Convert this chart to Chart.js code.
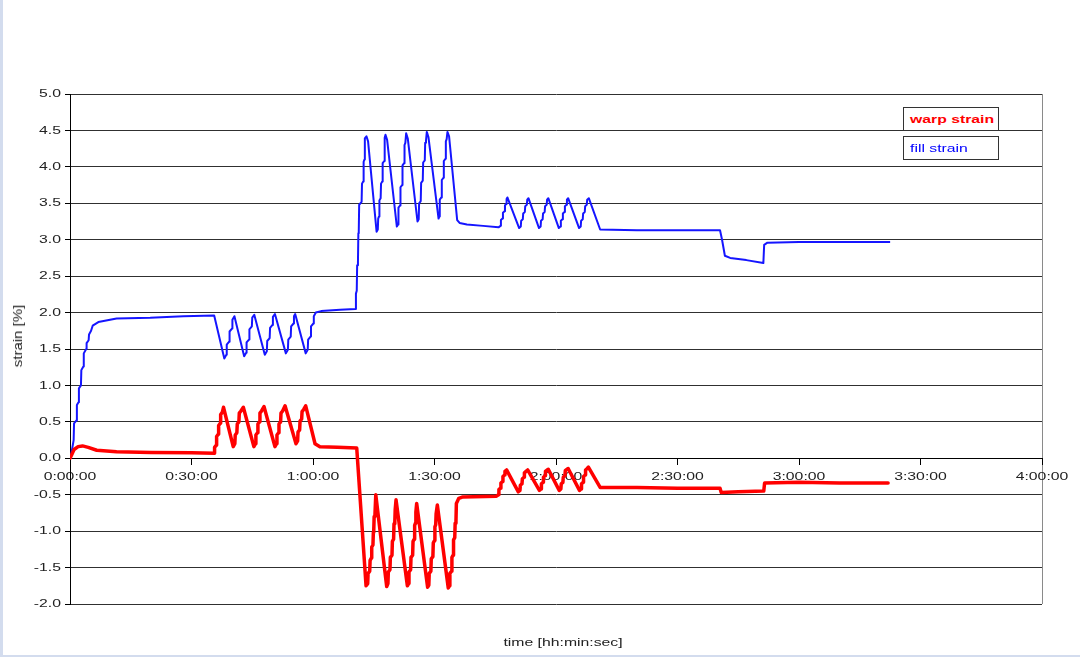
<!DOCTYPE html>
<html>
<head>
<meta charset="utf-8">
<script src="https://cdn.jsdelivr.net/npm/chart.js@4.4.1/dist/chart.umd.min.js"></script>
<style>
  html, body { margin: 0; padding: 0; background: #fff; }
  #wrap { position: relative; width: 1080px; height: 657px; overflow: hidden; background: #fff; }
  #c { position: absolute; left: 0; top: 0; }
  .strip { position: absolute; background: #d3dcee; }
  .legbox { position: absolute; left: 903px; width: 94px; height: 22px; border: 1px solid #333; background: #fff; box-sizing: content-box; }
  .legtxt { position: absolute; left: 6px; top: 3px; font-family: "Liberation Sans", Arial, sans-serif; font-size: 11.5px; line-height: 16px; white-space: nowrap; transform: scaleX(1.37); transform-origin: left center; }
  #xtitle { position: absolute; left: 563px; top: 636px; font-family: "Liberation Sans", Arial, sans-serif; font-size: 11.5px; color: #222; white-space: nowrap; transform: translateX(-50%) scaleX(1.37); }
  #ytitle { position: absolute; left: 18px; top: 336px; font-family: "Liberation Sans", Arial, sans-serif; font-size: 12px; color: #222; white-space: nowrap; transform: translate(-50%, -50%) rotate(-90deg) scaleX(1.25); }
</style>
</head>
<body>
<div id="wrap">
  <canvas id="c" width="1080" height="657"></canvas>
  <div class="strip" style="left:0;top:0;width:3px;height:657px;"></div>
  <div class="strip" style="left:0;top:655px;width:1080px;height:2px;"></div>
  <div class="legbox" style="top:107px;"><span class="legtxt" style="color:#ff0000;font-weight:bold;">warp strain</span></div>
  <div class="legbox" style="top:136px;"><span class="legtxt" style="color:#0000ff;">fill strain</span></div>
  <div id="xtitle">time [hh:min:sec]</div>
  <div id="ytitle">strain [%]</div>
</div>
<script>
// ---- data (time in minutes, strain in %) ----
const fillTime = [
  0,0.2,0.9,1.0,1.6,1.7,2.1,2.2,2.7,2.8,3.3,3.4,4.0,4.1,4.6,4.7,5.2,5.6,7.0,11.5,19.8,28.0,35.6,
  38.1,38.6,38.7,39.3,39.4,40.0,40.1,40.6,
  43.0,43.5,43.6,44.2,44.3,44.9,45.0,45.5,
  48.1,48.6,48.7,49.3,49.4,50.0,50.1,50.6,
  53.3,53.8,53.9,54.5,54.6,55.2,55.3,55.6,
  58.2,58.7,58.8,59.4,59.5,60.1,60.2,60.7,
  62.0,66.7,70.4,
  70.6,70.8,70.9,71.1,71.2,71.3,71.4,72.0,72.1,72.4,72.5,72.7,72.8,73.2,73.6,
  75.7,76.0,76.1,76.3,76.4,76.7,76.8,77.1,77.2,77.6,77.7,77.9,78.3,
  80.7,81.0,81.1,81.5,81.6,82.0,82.1,82.5,82.6,82.8,83.0,83.4,
  85.8,86.1,86.2,86.6,86.7,87.1,87.2,87.6,87.7,87.9,88.1,88.5,
  91.0,91.2,91.3,91.7,91.8,92.2,92.3,92.7,92.8,93.0,93.2,93.6,
  95.6,96.2,98.0,102.0,105.8,
  106.3,106.4,106.8,106.9,107.3,107.4,107.7,107.8,108.0,
  110.9,111.3,111.4,111.8,111.9,112.3,112.4,112.8,112.9,113.2,
  115.8,116.2,116.3,116.7,116.8,117.2,117.3,117.7,117.8,118.1,
  120.7,121.1,121.2,121.6,121.7,122.1,122.2,122.6,122.7,123.0,
  125.7,126.1,126.2,126.6,126.7,127.1,127.2,127.6,127.7,128.1,
  130.9,140.0,150.0,160.5,161.0,161.7,163.0,167.0,171.2,171.4,172.2,180.0,190.0,202.5
];
const fillStrain = [
  0,0.02,0.25,0.48,0.52,0.73,0.77,0.96,1.00,1.21,1.26,1.44,1.50,1.58,1.62,1.70,1.75,1.82,1.87,1.92,1.93,1.95,1.96,
  1.37,1.42,1.56,1.60,1.74,1.78,1.90,1.95,
  1.40,1.45,1.59,1.63,1.77,1.81,1.93,1.97,
  1.42,1.47,1.61,1.65,1.79,1.83,1.94,1.98,
  1.44,1.49,1.63,1.67,1.81,1.85,1.95,1.98,
  1.44,1.49,1.63,1.67,1.81,1.85,1.95,2.00,
  2.02,2.04,2.05,
  2.26,2.30,2.65,2.70,3.09,3.12,3.48,3.52,3.77,3.80,4.07,4.10,4.39,4.42,4.35,
  3.11,3.14,3.29,3.32,3.54,3.57,3.77,3.80,4.05,4.08,4.40,4.44,4.37,
  3.18,3.21,3.44,3.47,3.72,3.75,4.02,4.05,4.30,4.33,4.46,4.39,
  3.25,3.28,3.50,3.53,3.78,3.81,4.06,4.09,4.33,4.36,4.48,4.41,
  3.29,3.32,3.55,3.58,3.82,3.85,4.08,4.11,4.35,4.38,4.48,4.42,
  3.27,3.23,3.21,3.19,3.17,
  3.19,3.27,3.29,3.37,3.39,3.47,3.49,3.56,3.58,
  3.16,3.18,3.26,3.28,3.36,3.38,3.46,3.48,3.55,3.57,
  3.16,3.18,3.26,3.28,3.36,3.38,3.46,3.48,3.55,3.57,
  3.16,3.18,3.26,3.28,3.36,3.38,3.46,3.48,3.55,3.57,
  3.16,3.18,3.26,3.28,3.36,3.38,3.46,3.48,3.55,3.57,
  3.14,3.13,3.13,3.13,3.00,2.78,2.75,2.72,2.68,2.93,2.96,2.97,2.97,2.97
];
const warpTime = [
  0,0.5,1.0,2.0,3.1,4.5,6.6,11.5,20.0,30.0,35.6,
  35.7,36.1,36.2,36.6,36.7,37.1,37.2,37.6,37.9,
  40.3,40.7,40.8,41.2,41.3,41.7,41.8,42.2,42.8,
  45.4,45.8,45.9,46.3,46.4,46.8,46.9,47.3,47.9,
  50.6,51.0,51.1,51.5,51.6,52.0,52.1,52.5,53.1,
  55.8,56.2,56.3,56.7,56.8,57.2,57.3,57.7,58.2,
  60.5,61.7,66.0,70.8,
  73.1,73.5,73.6,74.0,74.1,74.4,74.5,74.8,74.9,75.0,75.1,75.3,75.5,
  78.2,78.5,78.6,79.0,79.1,79.5,79.6,79.9,80.0,80.2,80.3,80.5,
  83.3,83.6,83.7,84.1,84.2,84.6,84.7,85.0,85.1,85.3,85.4,85.6,
  88.3,88.6,88.7,89.1,89.2,89.6,89.7,90.0,90.1,90.3,90.4,90.7,
  93.4,93.7,93.8,94.2,94.3,94.6,94.7,95.0,95.1,95.3,95.4,96.0,97.0,105.3,
  105.8,105.9,106.3,106.4,106.8,106.9,107.3,107.4,107.8,
  110.7,111.1,111.2,111.6,111.7,112.1,112.2,112.6,113.0,
  115.9,116.3,116.4,116.8,116.9,117.3,117.4,117.8,118.1,
  120.8,121.2,121.3,121.7,121.8,122.2,122.3,122.7,123.0,
  125.8,126.2,126.3,126.7,126.8,127.2,127.3,127.7,128.0,
  130.9,140.0,150.0,160.5,160.8,165.0,171.3,171.5,180.0,190.0,202.0
];
const warpStrain = [
  0,0.06,0.12,0.16,0.17,0.15,0.11,0.09,0.08,0.075,0.07,
  0.15,0.18,0.30,0.33,0.45,0.48,0.60,0.63,0.70,
  0.16,0.20,0.32,0.35,0.47,0.50,0.62,0.65,0.70,
  0.16,0.20,0.32,0.35,0.47,0.50,0.62,0.65,0.71,
  0.16,0.20,0.32,0.35,0.47,0.50,0.62,0.65,0.72,
  0.20,0.24,0.36,0.39,0.51,0.54,0.64,0.67,0.72,
  0.20,0.16,0.15,0.14,
  -1.75,-1.72,-1.58,-1.55,-1.40,-1.37,-1.22,-1.19,-1.02,-0.99,-0.80,-0.77,-0.50,
  -1.76,-1.72,-1.56,-1.53,-1.36,-1.33,-1.14,-1.11,-0.90,-0.87,-0.70,-0.57,
  -1.75,-1.72,-1.56,-1.53,-1.36,-1.33,-1.14,-1.11,-0.92,-0.89,-0.74,-0.62,
  -1.77,-1.74,-1.58,-1.55,-1.38,-1.35,-1.16,-1.13,-0.94,-0.91,-0.76,-0.64,
  -1.78,-1.75,-1.58,-1.55,-1.36,-1.33,-1.12,-1.09,-0.89,-0.86,-0.62,-0.55,-0.53,-0.52,
  -0.50,-0.43,-0.41,-0.34,-0.32,-0.25,-0.23,-0.18,-0.16,
  -0.46,-0.44,-0.37,-0.35,-0.28,-0.26,-0.20,-0.18,-0.16,
  -0.44,-0.42,-0.35,-0.33,-0.26,-0.24,-0.18,-0.16,-0.15,
  -0.44,-0.42,-0.35,-0.33,-0.26,-0.24,-0.17,-0.15,-0.14,
  -0.44,-0.42,-0.35,-0.33,-0.25,-0.23,-0.16,-0.14,-0.12,
  -0.40,-0.40,-0.41,-0.41,-0.47,-0.46,-0.45,-0.34,-0.33,-0.34,-0.34
];
const seriesNames = ['warp strain', 'fill strain'];
const yTicks = { min: -2.0, max: 5.0, step: 0.5 };
const xTicks = { min: 0, max: 240, step: 30 };   // minutes

if (fillTime.length !== fillStrain.length) console.error('fill length mismatch', fillTime.length, fillStrain.length);
if (warpTime.length !== warpStrain.length) console.error('warp length mismatch', warpTime.length, warpStrain.length);

function fmtTime(min) {
  const total = Math.round(min * 60);
  const h = Math.floor(total / 3600);
  const m = Math.floor((total % 3600) / 60);
  const s = total % 60;
  return h + ':' + String(m).padStart(2, '0') + ':' + String(s).padStart(2, '0');
}

const canvas = document.getElementById('c');
const ctx = canvas.getContext('2d');
// the reference picture is horizontally stretched; stretch tick text the same way
const TEXT_STRETCH = 1.37;
const origFillText = ctx.fillText;
ctx.fillText = function (text, x, y, maxWidth) {
  this.save();
  this.translate(x, y);
  this.scale(TEXT_STRETCH, 1);
  origFillText.call(this, text, 0, 0);
  this.restore();
};

const tickFont = { family: '"Liberation Sans", Arial, sans-serif', size: 11.5 };

new Chart(ctx, {
  type: 'line',
  data: {
    datasets: [
      {
        label: seriesNames[0],
        data: warpTime.map((t, i) => ({ x: t, y: warpStrain[i] })),
        borderColor: '#ff0000',
        borderWidth: 3.5,
        pointRadius: 0,
        tension: 0,
        borderJoinStyle: 'round',
        borderCapStyle: 'round',
        fill: false
      },
      {
        label: seriesNames[1],
        data: fillTime.map((t, i) => ({ x: t, y: fillStrain[i] })),
        borderColor: '#1515ff',
        borderWidth: 2,
        pointRadius: 0,
        tension: 0,
        borderJoinStyle: 'round',
        fill: false
      }
    ]
  },
  options: {
    responsive: false,
    animation: false,
    devicePixelRatio: 1,
    events: [],
    layout: { padding: { left: 0, top: 94, right: 38, bottom: 53 } },
    plugins: { legend: { display: false }, tooltip: { enabled: false }, title: { display: false } },
    scales: {
      x: {
        type: 'linear',
        position: { y: 0 },
        min: xTicks.min,
        max: xTicks.max,
        afterFit(scale) { scale.height = 0; },
        afterBuildTicks(scale) {
          const t = [];
          for (let v = xTicks.min; v <= xTicks.max; v += xTicks.step) t.push({ value: v });
          scale.ticks = t;
        },
        ticks: {
          autoSkip: false,
          maxRotation: 0,
          padding: 6,
          color: '#222',
          font: tickFont,
          callback: (v) => fmtTime(v)
        },
        grid: {
          drawOnChartArea: true,
          drawTicks: true,
          tickLength: 6,
          tickColor: '#000',
          color: (c) => (c.tick && c.tick.value === xTicks.max ? '#8a8a8a' : 'rgba(0,0,0,0)'),
          lineWidth: 1
        },
        border: { display: true, color: '#000', width: 1 }
      },
      y: {
        type: 'linear',
        position: 'left',
        min: yTicks.min,
        max: yTicks.max,
        afterFit(scale) { scale.width = 70; },
        afterBuildTicks(scale) {
          const t = [];
          for (let v = yTicks.min; v <= yTicks.max + 1e-9; v += yTicks.step) t.push({ value: Math.round(v * 10) / 10 });
          scale.ticks = t;
        },
        ticks: {
          padding: 4,
          color: '#222',
          font: tickFont,
          callback: (v) => Number(v).toFixed(1)
        },
        grid: {
          color: '#303030',
          lineWidth: 1,
          tickLength: 5,
          tickColor: '#000'
        },
        border: { display: true, color: '#000', width: 1 }
      }
    }
  }
});
</script>
</body>
</html>
